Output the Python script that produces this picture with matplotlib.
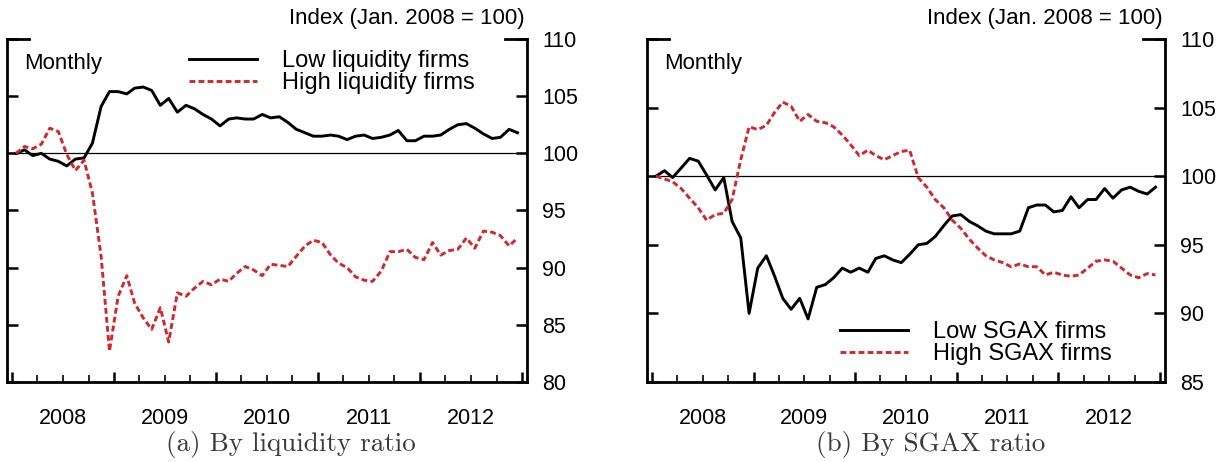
import matplotlib
matplotlib.use('Agg')
import matplotlib.pyplot as plt
import matplotlib.dates as mdates
import pandas as pd
import numpy as np
from datetime import datetime

plt.rcParams['font.family'] = ['Liberation Sans', 'DejaVu Sans']

# monthly index values, Jan 2008 = 100, Jan 2008 .. Dec 2012
low_liq = [100.0, 100.3, 99.8, 100.0, 99.5, 99.3, 98.9, 99.5, 99.6, 100.9,
           104.1, 105.4, 105.4, 105.2, 105.7, 105.8, 105.5, 104.2, 104.8, 103.6,
           104.2, 103.9, 103.4, 103.0, 102.4, 103.0, 103.1, 103.0, 103.0, 103.4,
           103.1, 103.2, 102.7, 102.1, 101.8, 101.5, 101.5, 101.6, 101.5, 101.2,
           101.5, 101.6, 101.3, 101.4, 101.6, 102.0, 101.1, 101.1, 101.5, 101.5,
           101.6, 102.1, 102.5, 102.6, 102.2, 101.7, 101.3, 101.4, 102.1, 101.8]
high_liq = [100.0, 100.6, 100.4, 100.8, 102.2, 101.9, 99.9, 98.5, 99.4, 96.5,
            91.0, 82.7, 87.5, 89.3, 86.9, 85.6, 84.6, 86.5, 83.5, 87.8,
            87.5, 88.2, 88.8, 88.5, 89.0, 88.8, 89.5, 90.1, 89.8, 89.3,
            90.3, 90.2, 90.1, 91.0, 91.9, 92.4, 92.2, 91.1, 90.4, 90.0,
            89.2, 88.9, 88.8, 89.7, 91.4, 91.4, 91.6, 90.9, 90.7, 92.2,
            91.1, 91.5, 91.6, 92.6, 91.7, 93.2, 93.1, 92.8, 91.9, 92.6]
low_sgax = [100.0, 100.4, 99.9, 100.6, 101.3, 101.1, 100.1, 99.0, 99.9, 96.7,
            95.5, 90.0, 93.3, 94.2, 92.8, 91.1, 90.3, 91.1, 89.6, 91.9,
            92.1, 92.6, 93.3, 93.0, 93.3, 93.0, 94.0, 94.2, 93.9, 93.7,
            94.3, 95.0, 95.1, 95.6, 96.4, 97.1, 97.2, 96.7, 96.4, 96.0,
            95.8, 95.8, 95.8, 96.0, 97.7, 97.9, 97.9, 97.4, 97.5, 98.5,
            97.7, 98.3, 98.3, 99.1, 98.4, 99.0, 99.2, 98.9, 98.7, 99.2]
high_sgax = [100.0, 99.8, 99.6, 99.1, 98.4, 97.7, 96.8, 97.2, 97.3, 98.3,
             101.2, 103.6, 103.4, 103.7, 104.6, 105.4, 105.1, 104.0, 104.5, 104.0,
             103.9, 103.6, 103.0, 102.3, 101.5, 101.9, 101.5, 101.2, 101.5, 101.8,
             101.9, 99.9, 99.2, 98.3, 97.7, 96.8, 96.2, 95.4, 94.8, 94.2,
             93.9, 93.7, 93.4, 93.6, 93.4, 93.4, 92.8, 93.0, 92.8, 92.7,
             92.8, 93.3, 93.8, 93.9, 93.8, 93.3, 92.8, 92.6, 92.9, 92.8]

months = pd.date_range('2008-01-01', periods=60, freq='MS') + pd.Timedelta(days=14)
years = [2008, 2009, 2010, 2011, 2012]
year_labels = ['2008', '2009', '2010', '2011', '2012']

RED = '#d7262b'
W, H = 1229, 462


def px_box(x0, x1, y_top, y_bot):
    return [x0 / W, 1 - y_bot / H, (x1 - x0) / W, (y_bot - y_top) / H]


def style_axis(ax, ylo, yhi):
    ax.set_ylim(ylo, yhi)
    ax.set_yticks(np.arange(ylo, yhi + 1, 5))
    ax.set_xlim(datetime(2007, 12, 14), datetime(2013, 1, 18))
    ax.xaxis.set_major_locator(mdates.YearLocator())
    ax.xaxis.set_minor_locator(mdates.MonthLocator(bymonth=[4, 7, 10]))
    ax.xaxis.set_major_formatter(plt.NullFormatter())
    ax.tick_params(axis='x', which='major', direction='in', length=7.5, width=1.8)
    ax.tick_params(axis='x', which='minor', direction='in', length=5, width=1.2)
    ax.tick_params(axis='y', which='major', direction='in', length=8, width=1.8,
                   left=True, right=True, labelleft=False, labelright=True,
                   labelsize=15.5, pad=11)
    ax.spines['top'].set_visible(False)
    for s in ['left', 'right', 'bottom']:
        ax.spines[s].set_linewidth(2.0)
    # short corner stubs instead of a full top frame
    stub = 22 / (ax.get_position().width * W)
    for xs in ([0, stub], [1 - stub, 1]):
        ax.plot(xs, [1, 1], transform=ax.transAxes, color='k', lw=2.0,
                clip_on=False, solid_capstyle='projecting')
    ax.axhline(100, color='k', lw=0.9, zorder=1)
    sec = ax.secondary_xaxis('bottom')
    sec.set_xticks([datetime(y, 7, 1) for y in years], year_labels)
    sec.tick_params(length=0, pad=19, labelsize=15.5)
    sec.spines['bottom'].set_visible(False)
    ax.text(0.033, 0.93, 'Monthly', transform=ax.transAxes, fontsize=16,
            ha='left', va='center')
    ax.text(0.995, 1.061, 'Index (Jan. 2008 = 100)', transform=ax.transAxes,
            fontsize=16, ha='right', va='center')


fig = plt.figure(figsize=(W / 100, H / 100), dpi=100)
ax1 = fig.add_axes(px_box(7, 527, 39, 382))
ax2 = fig.add_axes(px_box(647, 1165, 39, 382))

dash = (0, (2.0, 1.1))
LW = 2.1

ax1.plot(months, low_liq, color='k', lw=LW, label='Low liquidity firms', zorder=3)
ax1.plot(months, high_liq, color=RED, lw=LW, ls=dash, label='High liquidity firms', zorder=3)
style_axis(ax1, 80, 110)
ax1.legend(loc='upper left', bbox_to_anchor=(0.35, 0.968), frameon=False,
           fontsize=17, handlelength=2.9, handletextpad=1.05, labelspacing=0.0,
           borderpad=0, borderaxespad=0)

ax2.plot(months, low_sgax, color='k', lw=LW, label='Low SGAX firms', zorder=3)
ax2.plot(months, high_sgax, color=RED, lw=LW, ls=dash, label='High SGAX firms', zorder=3)
style_axis(ax2, 85, 110)
ax2.legend(loc='lower left', bbox_to_anchor=(0.3726, 0.05), frameon=False,
           fontsize=17, handlelength=2.9, handletextpad=1.05, labelspacing=0.0,
           borderpad=0, borderaxespad=0)

fig.text(291 / W, 1 - 444 / H, '(a) By liquidity ratio', family='cmr10',
         fontsize=19.5, color='#3a3a3a', ha='center', va='center')
fig.text(931 / W, 1 - 444 / H, '(b) By SGAX ratio', family='cmr10',
         fontsize=19.5, color='#3a3a3a', ha='center', va='center')

fig.savefig('out.png', dpi=100)
